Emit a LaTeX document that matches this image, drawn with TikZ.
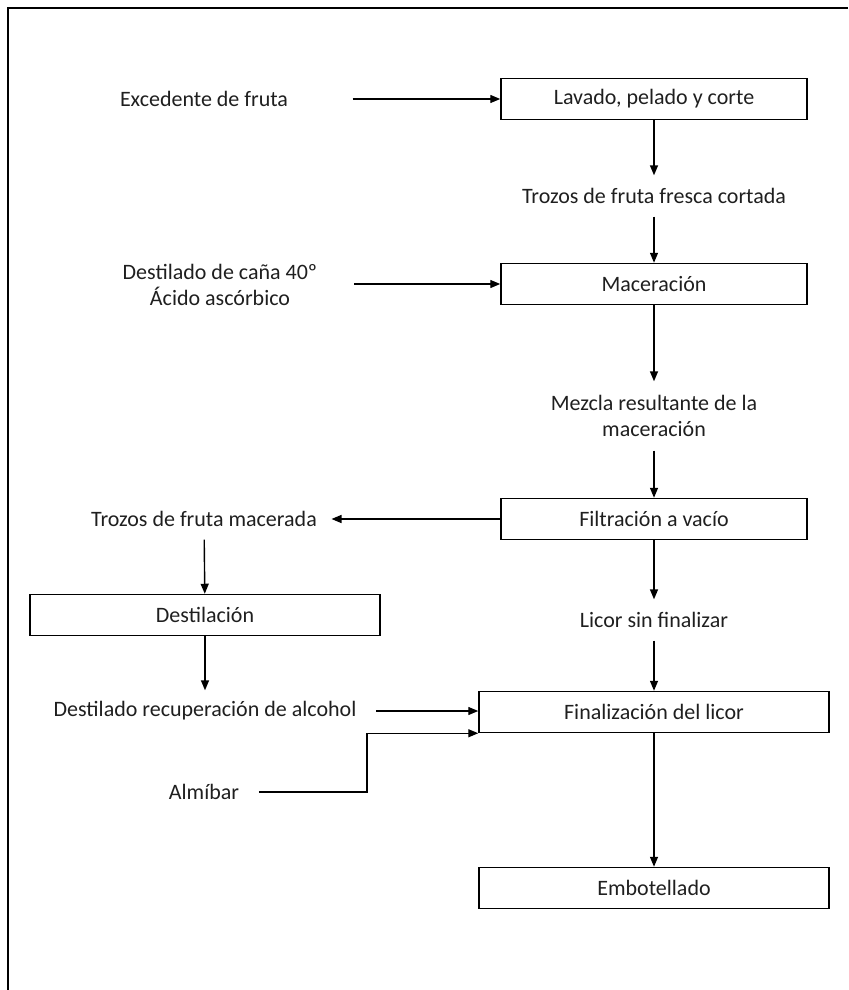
\documentclass[tikz,border=0pt]{standalone}
\usepackage{fontspec}
\setmainfont{Carlito}
\usetikzlibrary{arrows.meta}
\tikzset{
  proc/.style={draw, line width=.75pt, minimum width=153pt, minimum height=20.5pt, inner sep=0pt},
  wide/.style={proc, minimum width=175pt},
  lbl/.style={inner sep=0pt, minimum height=20pt, align=center},
}
\begin{document}
\begin{tikzpicture}[>={Triangle[length=5pt,width=4pt]}, x=.5pt, y=-.5pt, line width=.7pt, font=\fontsize{11}{13}\selectfont, text=black!88]
\useasboundingbox (0,0) rectangle (848,990);
\draw[line width=1.1pt](8,990)--(8,8)--(848,8);

\node[proc](lav) at (654,99) {Lavado, pelado y corte};
\node[proc](mac) at (654,284) {Maceración};
\node[proc](fil) at (654,519) {Filtración a vacío};
\node[wide](dstl) at (205,615) {Destilación};
\node[wide](fin) at (654,712) {Finalización del licor};
\node[wide](emb) at (654,888) {Embotellado};

\node[lbl](exc) at (204,99) {Excedente de fruta};
\node[lbl](tfr) at (654,196) {Trozos de fruta fresca cortada};
\node[lbl](dcan) at (220,285) {Destilado de caña 40º\\Ácido ascórbico};
\node[lbl, minimum height=34pt](mez) at (654,416) {Mezcla resultante de la\\maceración};
\node[lbl](tmac) at (204,519) {Trozos de fruta macerada};
\node[lbl](lic) at (654,620) {Licor sin finalizar};
\node[lbl](drec) at (205,711) {Destilado recuperación de alcohol};
\node[lbl](alm) at (204,792) {Almíbar};
\coordinate (codo) at (367,792);

\draw[->, shorten <=32pt](exc)--(lav);
\draw[->](lav)--(tfr);
\draw[->](tfr)--(mac);
\draw[->, shorten <=18pt](dcan.east|-mac.west)--(mac.west);
\draw[->](mac)--(mez);
\draw[->](mez)--(fil);
\draw[->, shorten >=7pt](fil)--(tmac);
\draw[->](tmac)--(dstl);
\draw[->](fil)--(lic);
\draw[->](dstl)--(drec);
\draw[->](lic)--(fin);
\draw[->, shorten <=9.5pt](drec.east)--(drec.east-|fin.west);
\draw[->, shorten <=9.5pt](alm.east)--(codo)|-(fin.south west);
\draw[->](fin)--(emb);
\end{tikzpicture}
\end{document}
